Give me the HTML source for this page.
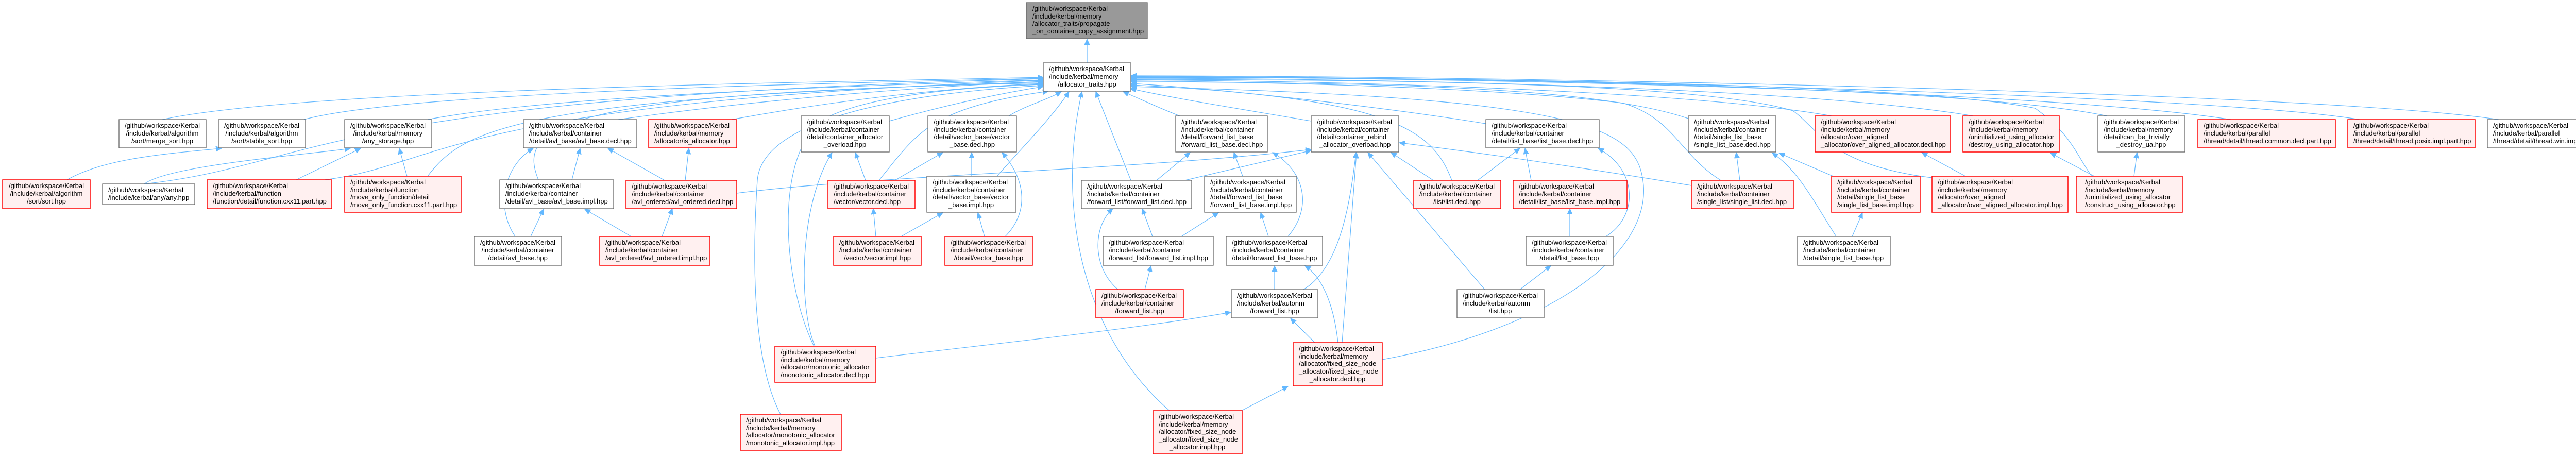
<!DOCTYPE html>
<html><head><meta charset="utf-8"><style>
html,body{margin:0;padding:0;background:#fff;}
svg{display:block;}
text{font-family:"Liberation Sans",Arial,sans-serif;font-size:13px;fill:#000;}
.w{fill:#fff;stroke:#666;stroke-width:1.3;}
.r{fill:#fff0f0;stroke:#f00;stroke-width:1.5;}
.g{fill:#999;stroke:#666;stroke-width:1.3;}
.e{fill:none;stroke:#63b8ff;stroke-width:1.2;marker-end:url(#ah);}
.m{text-anchor:middle;}
</style></head><body>
<svg width="5069" height="887" viewBox="0 0 5069 887" xmlns="http://www.w3.org/2000/svg">
<defs><marker id="ah" markerUnits="userSpaceOnUse" markerWidth="12" markerHeight="12" refX="11" refY="5" orient="auto"><path d="M0,0 L11,5 L0,10 z" fill="#63b8ff" stroke="#63b8ff"/></marker></defs>
<rect width="5069" height="887" fill="#fff"/>
<g>
<!-- edges -->
<path class="e" d="M2110,122 L2110,76"/>
<path class="e" d="M315,232 C600,170 1700,158 2025,150"/>
<path class="e" d="M590,232 C800,175 1700,160 2025,152"/>
<path class="e" d="M830,232 C1100,180 1800,163 2025,155"/>
<path class="e" d="M1200,232 C1500,190 1800,168 2025,158"/>
<path class="e" d="M1420,232 C1650,190 1850,170 2025,162"/>
<path class="e" d="M1726,235 C1850,200 1950,180 2025,168"/>
<path class="e" d="M1958,225 C1990,205 2030,195 2060,178"/>
<path class="e" d="M280,357 C620,320 600,190 2025,153"/>
<path class="e" d="M630,349 C860,320 860,200 2025,156"/>
<path class="e" d="M830,342 C900,250 1000,190 2025,159"/>
<path class="e" d="M1045,349 C1000,240 1100,180 2025,161"/>
<path class="e" d="M1706,350 C1780,260 1800,210 2035,177"/>
<path class="e" d="M1935,342 C1990,280 2040,230 2075,178"/>
<path class="e" d="M1580,672 C1520,550 1500,300 1600,230 C1700,180 1900,168 2025,164"/>
<path class="e" d="M1515,804 C1460,700 1460,500 1470,350 C1480,220 1800,178 2025,166"/>
<path class="e" d="M2290,225 C2250,210 2220,195 2180,178"/>
<path class="e" d="M2195,350 L2127,178"/>
<path class="e" d="M2270,797 C2100,650 2050,400 2100,178"/>
<path class="e" d="M2545,235 C2400,210 2300,195 2194,172"/>
<path class="e" d="M2818,350 C2780,250 2700,190 2195,165"/>
<path class="e" d="M2884,240 C2700,210 2400,175 2195,162"/>
<path class="e" d="M3277,230 C3100,170 2700,160 2195,159"/>
<path class="e" d="M3340,350 C3260,300 3250,230 3150,200 C2900,170 2500,160 2195,157"/>
<path class="e" d="M3555,225 C3300,180 2700,158 2195,155"/>
<path class="e" d="M3750,345 C3550,320 3530,250 3480,215 C3300,160 2700,155 2195,154"/>
<path class="e" d="M3830,225 C3500,170 2700,152 2195,152"/>
<path class="e" d="M4060,342 C4030,300 4020,260 3950,210 C3700,160 2800,150 2195,151"/>
<path class="e" d="M4090,225 C3800,165 2800,150 2195,150"/>
<path class="e" d="M4330,232 C4000,180 3000,152 2195,149"/>
<path class="e" d="M4580,232 C4300,185 3000,150 2195,148"/>
<path class="e" d="M4850,232 C4500,180 3000,148 2195,147"/>
<path class="e" d="M2683,698 C3000,640 3200,500 3190,360 C3180,250 3100,190 2195,168"/>
<path class="e" d="M130,349 C200,310 300,300 430,288"/>
<path class="e" d="M280,357 C330,320 600,300 680,288"/>
<path class="e" d="M575,349 L700,288"/>
<path class="e" d="M790,342 L775,288"/>
<path class="e" d="M1110,349 L1126,288"/>
<path class="e" d="M1000,459 C960,400 980,320 1035,288"/>
<path class="e" d="M1290,350 L1180,288"/>
<path class="e" d="M1330,350 L1337,288"/>
<path class="e" d="M1030,459 L1055,406"/>
<path class="e" d="M1225,459 L1135,406"/>
<path class="e" d="M1285,459 L1305,405"/>
<path class="e" d="M1680,350 L1660,296"/>
<path class="e" d="M1582,672 C1550,600 1550,400 1615,296"/>
<path class="e" d="M1737,350 L1830,296"/>
<path class="e" d="M1886,342 L1886,296"/>
<path class="e" d="M1951,459 C1990,420 2000,360 1945,296"/>
<path class="e" d="M1749,459 L1830,413"/>
<path class="e" d="M1911,459 L1898,413"/>
<path class="e" d="M1700,459 L1695,405"/>
<path class="e" d="M1430,375 C1700,340 2200,330 2545,290"/>
<path class="e" d="M2245,350 L2310,296"/>
<path class="e" d="M2412,342 L2395,296"/>
<path class="e" d="M2500,459 C2550,400 2530,330 2470,296"/>
<path class="e" d="M2300,350 L2545,292"/>
<path class="e" d="M2782,350 L2700,296"/>
<path class="e" d="M2530,562 C2600,520 2620,400 2632,296"/>
<path class="e" d="M2605,665 L2633,296"/>
<path class="e" d="M2882,562 L2655,296"/>
<path class="e" d="M3283,360 C3100,330 2900,300 2716,277"/>
<path class="e" d="M2237,459 L2217,405"/>
<path class="e" d="M2170,562 C2120,520 2120,440 2160,405"/>
<path class="e" d="M2293,459 L2365,413"/>
<path class="e" d="M2462,459 L2447,413"/>
<path class="e" d="M2222,562 L2234,516"/>
<path class="e" d="M2474,562 L2474,516"/>
<path class="e" d="M2597,665 C2590,600 2570,540 2533,516"/>
<path class="e" d="M2552,665 L2505,618"/>
<path class="e" d="M1700,695 C1900,670 2200,640 2389,606"/>
<path class="e" d="M2410,797 L2500,750"/>
<path class="e" d="M2868,350 L2950,288"/>
<path class="e" d="M2972,350 L2960,288"/>
<path class="e" d="M3117,459 C3180,420 3180,330 3102,288"/>
<path class="e" d="M3047,459 L3047,405"/>
<path class="e" d="M2950,562 L3010,516"/>
<path class="e" d="M3377,350 L3370,296"/>
<path class="e" d="M3558,342 L3453,297"/>
<path class="e" d="M3564,459 C3520,390 3490,330 3440,297"/>
<path class="e" d="M3595,459 L3615,413"/>
<path class="e" d="M3815,342 L3730,296"/>
<path class="e" d="M4065,342 L3980,297"/>
<path class="e" d="M4142,342 L4148,296"/>
</g>
<g>
<!-- nodes -->
<rect class="g" x="1992" y="5" width="235" height="70"/>
<text x="2004" y="21">/github/workspace/Kerbal</text><text x="2004" y="36">/include/kerbal/memory</text><text x="2004" y="50">/allocator_traits/propagate</text><text x="2004" y="65">_on_container_copy_assignment.hpp</text>

<rect class="w" x="2025" y="122" width="170" height="55"/>
<text x="2036" y="138">/github/workspace/Kerbal</text><text x="2036" y="153">/include/kerbal/memory</text><text class="m" x="2110" y="168">/allocator_traits.hpp</text>

<rect class="w" x="231" y="232" width="169" height="55"/>
<text class="m" x="315" y="248">/github/workspace/Kerbal</text><text class="m" x="315" y="263">/include/kerbal/algorithm</text><text class="m" x="315" y="278">/sort/merge_sort.hpp</text>
<rect class="w" x="424" y="232" width="169" height="55"/>
<text class="m" x="508" y="248">/github/workspace/Kerbal</text><text class="m" x="508" y="263">/include/kerbal/algorithm</text><text class="m" x="508" y="278">/sort/stable_sort.hpp</text>
<rect class="w" x="669" y="232" width="169" height="55"/>
<text class="m" x="753" y="248">/github/workspace/Kerbal</text><text class="m" x="753" y="263">/include/kerbal/memory</text><text class="m" x="753" y="278">/any_storage.hpp</text>
<rect class="w" x="1016" y="232" width="220" height="55"/>
<text x="1027" y="248">/github/workspace/Kerbal</text><text x="1027" y="263">/include/kerbal/container</text><text x="1027" y="278">/detail/avl_base/avl_base.decl.hpp</text>
<rect class="r" x="1259" y="232" width="171" height="55"/>
<text x="1270" y="248">/github/workspace/Kerbal</text><text x="1270" y="263">/include/kerbal/memory</text><text x="1270" y="278">/allocator/is_allocator.hpp</text>
<rect class="w" x="1555" y="225" width="171" height="70"/>
<text x="1566" y="241">/github/workspace/Kerbal</text><text x="1566" y="256">/include/kerbal/container</text><text x="1566" y="270">/detail/container_allocator</text><text class="m" x="1640" y="285">_overload.hpp</text>
<rect class="w" x="1801" y="225" width="172" height="70"/>
<text x="1812" y="241">/github/workspace/Kerbal</text><text x="1812" y="256">/include/kerbal/container</text><text x="1812" y="270">/detail/vector_base/vector</text><text class="m" x="1887" y="285">_base.decl.hpp</text>
<rect class="w" x="2282" y="225" width="178" height="70"/>
<text x="2293" y="241">/github/workspace/Kerbal</text><text x="2293" y="256">/include/kerbal/container</text><text x="2293" y="270">/detail/forward_list_base</text><text x="2293" y="285">/forward_list_base.decl.hpp</text>
<rect class="w" x="2545" y="225" width="170" height="70"/>
<text x="2556" y="241">/github/workspace/Kerbal</text><text x="2556" y="256">/include/kerbal/container</text><text x="2556" y="270">/detail/container_rebind</text><text class="m" x="2630" y="285">_allocator_overload.hpp</text>
<rect class="w" x="2884" y="232" width="220" height="55"/>
<text x="2895" y="248">/github/workspace/Kerbal</text><text x="2895" y="263">/include/kerbal/container</text><text x="2895" y="278">/detail/list_base/list_base.decl.hpp</text>
<rect class="w" x="3277" y="225" width="170" height="70"/>
<text x="3288" y="241">/github/workspace/Kerbal</text><text x="3288" y="256">/include/kerbal/container</text><text x="3288" y="270">/detail/single_list_base</text><text x="3288" y="285">/single_list_base.decl.hpp</text>
<rect class="r" x="3523" y="225" width="263" height="70"/>
<text x="3534" y="241">/github/workspace/Kerbal</text><text x="3534" y="256">/include/kerbal/memory</text><text x="3534" y="270">/allocator/over_aligned</text><text x="3534" y="285">_allocator/over_aligned_allocator.decl.hpp</text>
<rect class="r" x="3810" y="225" width="187" height="70"/>
<text x="3821" y="241">/github/workspace/Kerbal</text><text x="3821" y="256">/include/kerbal/memory</text><text x="3821" y="270">/uninitialized_using_allocator</text><text x="3821" y="285">/destroy_using_allocator.hpp</text>
<rect class="w" x="4072" y="225" width="169" height="70"/>
<text x="4083" y="241">/github/workspace/Kerbal</text><text x="4083" y="256">/include/kerbal/memory</text><text x="4083" y="270">/detail/can_be_trivially</text><text class="m" x="4156" y="285">_destroy_ua.hpp</text>
<rect class="r" x="4266" y="232" width="267" height="55"/>
<text x="4277" y="248">/github/workspace/Kerbal</text><text x="4277" y="263">/include/kerbal/parallel</text><text x="4277" y="278">/thread/detail/thread.common.decl.part.hpp</text>
<rect class="r" x="4557" y="232" width="247" height="55"/>
<text x="4568" y="248">/github/workspace/Kerbal</text><text x="4568" y="263">/include/kerbal/parallel</text><text x="4568" y="278">/thread/detail/thread.posix.impl.part.hpp</text>
<rect class="w" x="4828" y="232" width="236" height="55"/>
<text x="4839" y="248">/github/workspace/Kerbal</text><text x="4839" y="263">/include/kerbal/parallel</text><text x="4839" y="278">/thread/detail/thread.win.impl.part.hpp</text>

<rect class="r" x="5" y="349" width="170" height="56"/>
<text class="m" x="90" y="365">/github/workspace/Kerbal</text><text class="m" x="90" y="380">/include/kerbal/algorithm</text><text class="m" x="90" y="395">/sort/sort.hpp</text>
<rect class="w" x="199" y="357" width="179" height="40"/>
<text x="210" y="373">/github/workspace/Kerbal</text><text x="210" y="388">/include/kerbal/any/any.hpp</text>
<rect class="r" x="402" y="349" width="242" height="56"/>
<text x="413" y="365">/github/workspace/Kerbal</text><text x="413" y="380">/include/kerbal/function</text><text x="413" y="395">/function/detail/function.cxx11.part.hpp</text>
<rect class="r" x="669" y="342" width="226" height="70"/>
<text x="680" y="358">/github/workspace/Kerbal</text><text x="680" y="373">/include/kerbal/function</text><text x="680" y="387">/move_only_function/detail</text><text x="680" y="402">/move_only_function.cxx11.part.hpp</text>
<rect class="w" x="970" y="349" width="221" height="56"/>
<text x="981" y="365">/github/workspace/Kerbal</text><text x="981" y="380">/include/kerbal/container</text><text x="981" y="395">/detail/avl_base/avl_base.impl.hpp</text>
<rect class="r" x="1215" y="350" width="215" height="55"/>
<text x="1226" y="366">/github/workspace/Kerbal</text><text x="1226" y="381">/include/kerbal/container</text><text x="1226" y="396">/avl_ordered/avl_ordered.decl.hpp</text>
<rect class="r" x="1607" y="350" width="169" height="55"/>
<text x="1618" y="366">/github/workspace/Kerbal</text><text x="1618" y="381">/include/kerbal/container</text><text x="1618" y="396">/vector/vector.decl.hpp</text>
<rect class="w" x="1799" y="342" width="173" height="70"/>
<text x="1810" y="358">/github/workspace/Kerbal</text><text x="1810" y="373">/include/kerbal/container</text><text x="1810" y="387">/detail/vector_base/vector</text><text class="m" x="1885" y="402">_base.impl.hpp</text>
<rect class="w" x="2099" y="350" width="214" height="55"/>
<text x="2110" y="366">/github/workspace/Kerbal</text><text x="2110" y="381">/include/kerbal/container</text><text x="2110" y="396">/forward_list/forward_list.decl.hpp</text>
<rect class="w" x="2338" y="342" width="178" height="70"/>
<text x="2349" y="358">/github/workspace/Kerbal</text><text x="2349" y="373">/include/kerbal/container</text><text x="2349" y="387">/detail/forward_list_base</text><text x="2349" y="402">/forward_list_base.impl.hpp</text>
<rect class="r" x="2744" y="350" width="169" height="55"/>
<text x="2755" y="366">/github/workspace/Kerbal</text><text x="2755" y="381">/include/kerbal/container</text><text class="m" x="2828" y="396">/list/list.decl.hpp</text>
<rect class="r" x="2937" y="350" width="221" height="55"/>
<text x="2948" y="366">/github/workspace/Kerbal</text><text x="2948" y="381">/include/kerbal/container</text><text x="2948" y="396">/detail/list_base/list_base.impl.hpp</text>
<rect class="r" x="3283" y="350" width="198" height="55"/>
<text x="3294" y="366">/github/workspace/Kerbal</text><text x="3294" y="381">/include/kerbal/container</text><text x="3294" y="396">/single_list/single_list.decl.hpp</text>
<rect class="r" x="3555" y="342" width="172" height="70"/>
<text x="3566" y="358">/github/workspace/Kerbal</text><text x="3566" y="373">/include/kerbal/container</text><text x="3566" y="387">/detail/single_list_base</text><text x="3566" y="402">/single_list_base.impl.hpp</text>
<rect class="r" x="3750" y="342" width="264" height="70"/>
<text x="3761" y="358">/github/workspace/Kerbal</text><text x="3761" y="373">/include/kerbal/memory</text><text x="3761" y="387">/allocator/over_aligned</text><text x="3761" y="402">_allocator/over_aligned_allocator.impl.hpp</text>
<rect class="r" x="4030" y="342" width="206" height="70"/>
<text x="4047" y="358">/github/workspace/Kerbal</text><text x="4047" y="373">/include/kerbal/memory</text><text x="4047" y="387">/uninitialized_using_allocator</text><text x="4047" y="402">/construct_using_allocator.hpp</text>

<rect class="w" x="921" y="459" width="169" height="56"/>
<text class="m" x="1005" y="475">/github/workspace/Kerbal</text><text class="m" x="1005" y="490">/include/kerbal/container</text><text class="m" x="1005" y="505">/detail/avl_base.hpp</text>
<rect class="r" x="1164" y="459" width="214" height="56"/>
<text x="1175" y="475">/github/workspace/Kerbal</text><text x="1175" y="490">/include/kerbal/container</text><text x="1175" y="505">/avl_ordered/avl_ordered.impl.hpp</text>
<rect class="r" x="1618" y="459" width="170" height="56"/>
<text x="1629" y="475">/github/workspace/Kerbal</text><text x="1629" y="490">/include/kerbal/container</text><text class="m" x="1703" y="505">/vector/vector.impl.hpp</text>
<rect class="r" x="1834" y="459" width="170" height="56"/>
<text x="1845" y="475">/github/workspace/Kerbal</text><text x="1845" y="490">/include/kerbal/container</text><text class="m" x="1919" y="505">/detail/vector_base.hpp</text>
<rect class="w" x="2141" y="459" width="214" height="56"/>
<text x="2152" y="475">/github/workspace/Kerbal</text><text x="2152" y="490">/include/kerbal/container</text><text x="2152" y="505">/forward_list/forward_list.impl.hpp</text>
<rect class="w" x="2380" y="459" width="187" height="56"/>
<text x="2391" y="475">/github/workspace/Kerbal</text><text x="2391" y="490">/include/kerbal/container</text><text x="2391" y="505">/detail/forward_list_base.hpp</text>
<rect class="w" x="2962" y="459" width="169" height="56"/>
<text x="2973" y="475">/github/workspace/Kerbal</text><text x="2973" y="490">/include/kerbal/container</text><text class="m" x="3046" y="505">/detail/list_base.hpp</text>
<rect class="w" x="3489" y="459" width="180" height="56"/>
<text x="3500" y="475">/github/workspace/Kerbal</text><text x="3500" y="490">/include/kerbal/container</text><text x="3500" y="505">/detail/single_list_base.hpp</text>

<rect class="r" x="2127" y="562" width="170" height="55"/>
<text x="2138" y="578">/github/workspace/Kerbal</text><text x="2138" y="593">/include/kerbal/container</text><text class="m" x="2212" y="608">/forward_list.hpp</text>
<rect class="w" x="2390" y="562" width="168" height="55"/>
<text x="2401" y="578">/github/workspace/Kerbal</text><text x="2401" y="593">/include/kerbal/autonm</text><text class="m" x="2474" y="608">/forward_list.hpp</text>
<rect class="w" x="2828" y="562" width="169" height="55"/>
<text x="2839" y="578">/github/workspace/Kerbal</text><text x="2839" y="593">/include/kerbal/autonm</text><text class="m" x="2912" y="608">/list.hpp</text>

<rect class="r" x="1504" y="672" width="196" height="70"/>
<text x="1515" y="688">/github/workspace/Kerbal</text><text x="1515" y="703">/include/kerbal/memory</text><text x="1515" y="717">/allocator/monotonic_allocator</text><text x="1515" y="732">/monotonic_allocator.decl.hpp</text>
<rect class="r" x="2510" y="665" width="173" height="84"/>
<text x="2521" y="681">/github/workspace/Kerbal</text><text x="2521" y="696">/include/kerbal/memory</text><text x="2521" y="710">/allocator/fixed_size_node</text><text x="2521" y="725">_allocator/fixed_size_node</text><text class="m" x="2596" y="740">_allocator.decl.hpp</text>
<rect class="r" x="1437" y="804" width="196" height="70"/>
<text x="1448" y="820">/github/workspace/Kerbal</text><text x="1448" y="835">/include/kerbal/memory</text><text x="1448" y="849">/allocator/monotonic_allocator</text><text x="1448" y="864">/monotonic_allocator.impl.hpp</text>
<rect class="r" x="2238" y="797" width="173" height="84"/>
<text x="2249" y="813">/github/workspace/Kerbal</text><text x="2249" y="828">/include/kerbal/memory</text><text x="2249" y="842">/allocator/fixed_size_node</text><text x="2249" y="857">_allocator/fixed_size_node</text><text class="m" x="2324" y="872">_allocator.impl.hpp</text>
</g>
</svg>
</body></html>
